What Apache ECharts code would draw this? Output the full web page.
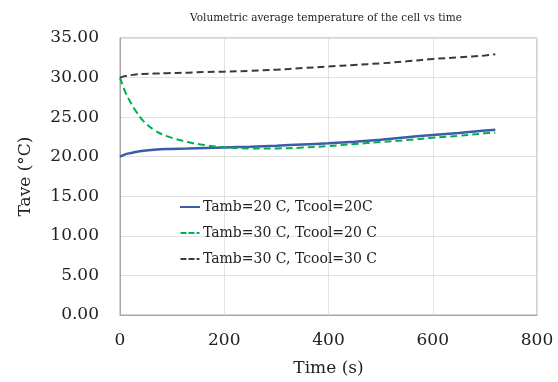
<!DOCTYPE html>
<html>
<head>
<meta charset="utf-8">
<script src="https://cdn.jsdelivr.net/npm/echarts@6/dist/echarts.min.js"></script>
<style>
	html, body { margin: 0; padding: 0; background: #fff; }
	#chart { width: 558px; height: 382px; }
</style>
</head>
<body>
<div id="chart"></div>
<script>
const times = [0, 10, 20, 30, 45, 65, 90, 130, 165, 200, 250, 300, 350, 400, 450, 500, 550, 600, 650, 700, 720];
const amb20cool20 = [20.0, 20.3, 20.45, 20.6, 20.75, 20.88, 20.97, 21.03, 21.1, 21.17, 21.27, 21.4, 21.55, 21.7, 21.9, 22.15, 22.45, 22.75, 23.0, 23.3, 23.4];
const amb30cool20 = [30.0, 28.2, 26.9, 25.8, 24.5, 23.4, 22.6, 21.85, 21.45, 21.2, 21.05, 21.05, 21.15, 21.35, 21.6, 21.85, 22.1, 22.4, 22.65, 22.95, 23.05];
const amb30cool30 = [30.0, 30.2, 30.3, 30.4, 30.45, 30.5, 30.55, 30.62, 30.7, 30.75, 30.85, 31.0, 31.2, 31.4, 31.6, 31.8, 32.05, 32.35, 32.55, 32.8, 32.95];
const seriesNames = ["Tamb=20 C, Tcool=20C", "Tamb=30 C, Tcool=20 C", "Tamb=30 C, Tcool=30 C"];

const font = "'DejaVu Serif', serif";
const pairs = ys => times.map((t, i) => [t, ys[i]]);
// short dashed legend mark, like the spreadsheet one
const dashIcon = "path://M0,0h6v2h-6zM8,0h6v2h-6zM16,0h3v2h-3z";

const chart = echarts.init(document.getElementById("chart"));
chart.setOption({
	animation: false,
	title: {
		text: "Volumetric average temperature of the cell vs time",
		left: 321,
		top: 8,
		textAlign: "center",
		textStyle: { fontFamily: font, fontSize: 10.5, fontWeight: "normal", color: "#222" }
	},
	grid: {
		left: 120, right: 21, top: 38, bottom: 67,
		show: true, borderColor: "#a6a6a6", borderWidth: 1
	},
	legend: {
		orient: "vertical",
		left: 175,
		top: 195,
		itemGap: 12,
		itemWidth: 20,
		itemHeight: 2,
		textStyle: { fontFamily: font, fontSize: 14, color: "#222", padding: [0, 0, 0, -2] },
		data: seriesNames.map((n, i) => ({ name: n, icon: i === 0 ? "rect" : dashIcon }))
	},
	xAxis: {
		type: "value",
		min: 0,
		max: 800,
		interval: 200,
		name: "Time (s)",
		nameLocation: "middle",
		nameGap: 45,
		nameTextStyle: { fontFamily: font, fontSize: 17, color: "#222" },
		axisLine: { show: true, lineStyle: { color: "#a6a6a6" } },
		axisTick: { show: false },
		axisLabel: { fontFamily: font, fontSize: 17, color: "#222", margin: 17 },
		splitLine: { show: true, lineStyle: { color: "#e2e2e2" } }
	},
	yAxis: {
		type: "value",
		min: 0,
		max: 35,
		interval: 5,
		name: "Tave (°C)",
		nameLocation: "middle",
		nameGap: 86,
		nameTextStyle: { fontFamily: font, fontSize: 17, color: "#222" },
		axisLine: { show: true, lineStyle: { color: "#a6a6a6" } },
		axisTick: { show: false },
		axisLabel: {
			fontFamily: font, fontSize: 17, color: "#222", margin: 21,
			formatter: v => v.toFixed(2)
		},
		splitLine: { show: true, lineStyle: { color: "#e2e2e2" } }
	},
	series: [
		{
			name: seriesNames[0],
			type: "line",
			smooth: 0.4,
			showSymbol: false,
			lineStyle: { color: "#3b5ca8", width: 2.5 },
			itemStyle: { color: "#3b5ca8" },
			data: pairs(amb20cool20)
		},
		{
			name: seriesNames[1],
			type: "line",
			smooth: 0.4,
			showSymbol: false,
			lineStyle: { color: "#00b050", width: 2, type: [7, 4] },
			itemStyle: { color: "#00b050" },
			data: pairs(amb30cool20)
		},
		{
			name: seriesNames[2],
			type: "line",
			smooth: 0.4,
			showSymbol: false,
			lineStyle: { color: "#3a3a3a", width: 2, type: [7, 4] },
			itemStyle: { color: "#3a3a3a" },
			data: pairs(amb30cool30)
		}
	]
});
</script>
</body>
</html>
